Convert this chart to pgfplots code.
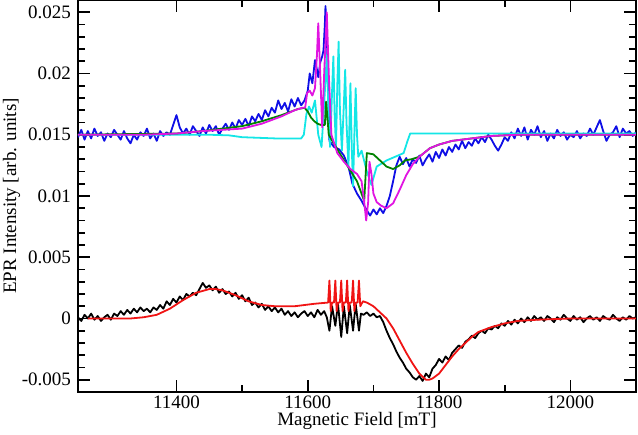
\documentclass[border=0pt]{standalone}
\usepackage{fontspec}
\setmainfont{Liberation Serif}
\usepackage{pgfplots}
\pgfplotsset{compat=1.18}
\usetikzlibrary{calc}
\definecolor{expblue}{RGB}{15,15,230}
\definecolor{fitmag}{RGB}{225,20,225}
\definecolor{fitgreen}{RGB}{0,130,0}
\definecolor{fitcyan}{RGB}{20,230,230}
\definecolor{fitred}{RGB}{240,20,20}
\begin{document}
\begin{tikzpicture}
\begin{axis}[
  name=ax,
  scale only axis, width=279pt, height=196pt,
  xmin=11250, xmax=12100, ymin=-0.006, ymax=0.026,
  scaled x ticks=false, scaled y ticks=false,
  xtick={11400,11600,11800,12000},
  xticklabels={11400,11600,11800,12000},
  minor x tick num=1,
  ytick={-0.005,0,0.005,0.01,0.015,0.02,0.025},
  yticklabels={-0.005,0,0.005,0.01,0.015,0.02,0.025},
  minor y tick num=4,
  tick align=inside,
  major tick length=6pt, minor tick length=3.5pt,
  every tick/.style={black, line width=0.8pt},
  axis line style={line width=1pt},
  font=\fontsize{9.5}{11}\selectfont,
  xlabel={Magnetic Field [mT]},
  ylabel={EPR Intensity [arb. units]},
  xticklabel style={yshift=1.5pt},
  xlabel style={yshift=5pt},
  ylabel style={yshift=-6pt},
  every axis plot/.append style={line width=0.9pt, line join=round},
]
% experiment, upper trace
\addplot[expblue] coordinates {
(11250,0.0148)(11255,0.0154)(11260,0.0146)(11265,0.0153)(11270,0.0147)(11275,0.0155)(11280,0.0149)(11285,0.0152)(11290,0.0145)(11295,0.0151)
(11300,0.0148)(11305,0.0154)(11310,0.0150)(11315,0.0146)(11320,0.0153)(11325,0.0147)(11330,0.0143)(11335,0.0150)(11340,0.0146)(11345,0.0152)
(11350,0.0149)(11355,0.0155)(11360,0.0147)(11365,0.0151)(11370,0.0145)(11375,0.0153)(11380,0.0149)(11385,0.0152)(11390,0.0150)(11395,0.0158)
(11400,0.0166)(11405,0.0156)(11410,0.0151)(11415,0.0155)(11420,0.0150)(11425,0.0157)(11430,0.0153)(11435,0.0149)(11440,0.0156)(11445,0.0151)
(11450,0.0158)(11455,0.0153)(11460,0.0157)(11465,0.0150)(11470,0.0155)(11475,0.0159)(11480,0.0154)(11485,0.0160)(11490,0.0155)(11495,0.0162)
(11500,0.0158)(11505,0.0163)(11510,0.0157)(11515,0.0165)(11520,0.0161)(11525,0.0167)(11530,0.0162)(11535,0.0170)(11540,0.0165)(11545,0.0172)
(11550,0.0168)(11555,0.0178)(11560,0.0171)(11565,0.0176)(11570,0.0169)(11575,0.0179)(11580,0.0173)(11585,0.0180)(11590,0.0174)(11595,0.0178)
(11600,0.0186)(11603,0.0200)(11607,0.0192)(11611,0.0211)(11614,0.0203)(11616,0.0197)(11619,0.0209)(11622,0.0214)(11624,0.0219)(11626,0.0240)
(11627,0.0255)(11629,0.0232)(11631,0.0190)(11633,0.0145)(11640,0.0140)(11648,0.0138)(11655,0.0133)(11662,0.0124)(11668,0.0110)(11675,0.0102)
(11682,0.0096)(11688,0.0090)(11695,0.0084)(11700,0.0089)(11705,0.0085)(11710,0.0090)(11715,0.0086)(11720,0.0092)(11725,0.0100)(11730,0.0112)
(11735,0.0125)(11740,0.0132)(11745,0.0126)(11750,0.0131)(11755,0.0124)(11760,0.0130)(11765,0.0127)(11770,0.0133)(11775,0.0125)(11780,0.0130)
(11785,0.0134)(11790,0.0128)(11795,0.0136)(11800,0.0131)(11805,0.0138)(11810,0.0133)(11815,0.0140)(11820,0.0136)(11825,0.0142)(11830,0.0138)
(11835,0.0145)(11840,0.0139)(11845,0.0144)(11850,0.0141)(11855,0.0147)(11860,0.0143)(11865,0.0148)(11870,0.0144)(11875,0.0150)(11880,0.0146)
(11885,0.0141)(11890,0.0137)(11895,0.0142)(11900,0.0148)(11905,0.0145)(11910,0.0152)(11915,0.0147)(11920,0.0155)(11925,0.0149)(11930,0.0156)
(11935,0.0146)(11940,0.0154)(11945,0.0150)(11950,0.0157)(11955,0.0148)(11960,0.0153)(11965,0.0145)(11970,0.0151)(11975,0.0147)(11980,0.0154)
(11985,0.0149)(11990,0.0152)(11995,0.0146)(12000,0.0150)(12005,0.0148)(12010,0.0153)(12015,0.0147)(12020,0.0151)(12025,0.0149)(12030,0.0155)
(12035,0.0150)(12040,0.0156)(12045,0.0162)(12050,0.0153)(12055,0.0145)(12060,0.0150)(12065,0.0152)(12070,0.0157)(12075,0.0148)(12080,0.0155)
(12085,0.0151)(12090,0.0153)(12095,0.0149)(12100,0.0152)
};
% fit 3 (cyan)
\addplot[fitcyan] coordinates {
(11250,0.0150)(11450,0.0150)(11480,0.01495)(11500,0.0148)(11550,0.0147)(11590,0.0147)(11594,0.0150)(11598,0.0167)(11602,0.0173)(11606,0.0168)
(11611,0.0178)(11616,0.0150)(11621,0.0140)(11625,0.0175)(11629,0.0215)(11632,0.0160)(11634,0.0140)(11637,0.0185)(11639,0.0214)(11641,0.0165)
(11643,0.0140)(11645,0.0190)(11647,0.0226)(11649,0.0170)(11652,0.0137)(11655,0.0175)(11657,0.0203)(11659,0.0160)(11662,0.0124)(11664,0.0170)
(11665,0.0192)(11667,0.0140)(11669,0.0108)(11671,0.0150)(11673,0.0188)(11675,0.0150)(11677,0.0132)(11682,0.0137)(11690,0.0120)(11697,0.0109)
(11705,0.0124)(11720,0.0129)(11746,0.0135)(11752,0.0145)(11756,0.0151)(11800,0.0151)(12100,0.0151)
};
% fit 2 (green)
\addplot[fitgreen] coordinates {
(11250,0.0150)(11400,0.0151)(11440,0.0153)(11500,0.0157)(11530,0.0161)(11560,0.0166)(11585,0.0171)(11595,0.0172)(11600,0.0169)(11605,0.0164)
(11610,0.0161)(11615,0.0159)(11620,0.0158)(11626,0.0158)(11628,0.0177)(11632,0.0150)(11645,0.0138)(11660,0.0125)(11675,0.0112)(11686,0.0096)
(11690,0.0135)(11700,0.0134)(11710,0.0129)(11720,0.0124)(11730,0.0122)(11740,0.0125)(11748,0.0129)(11758,0.0130)(11770,0.0132)(11786,0.0139)
(11800,0.0142)(11820,0.0145)(11850,0.0147)(11880,0.0149)(11920,0.0150)(12100,0.0150)
};
% fit 1 (magenta)
\addplot[fitmag] coordinates {
(11250,0.0150)(11350,0.0150)(11400,0.0151)(11440,0.0153)(11470,0.0154)(11500,0.0155)(11530,0.0159)(11560,0.0165)(11580,0.0170)(11592,0.0172)
(11596,0.0172)(11599,0.0184)(11603,0.0186)(11607,0.0182)(11611,0.0188)(11614,0.0215)(11616,0.0241)(11619,0.0200)(11622,0.0156)(11625,0.0200)
(11629,0.0250)(11632,0.0200)(11636,0.0150)(11645,0.0135)(11655,0.0128)(11665,0.0122)(11675,0.0118)(11682,0.0112)(11686,0.0095)(11689,0.0080)
(11692,0.0095)(11694,0.0128)(11697,0.0118)(11700,0.0102)(11705,0.0095)(11712,0.0092)(11720,0.0090)(11730,0.0094)(11740,0.0105)(11750,0.0117)
(11760,0.0126)(11770,0.0132)(11786,0.0139)(11800,0.0142)(11820,0.0145)(11850,0.0147)(11880,0.0149)(11920,0.0150)(12100,0.0150)
};
% experiment, lower trace
\addplot[black] coordinates {
(11250,0.0001)(11255,-0.0002)(11260,0.0003)(11265,0.0000)(11270,0.0004)(11275,-0.0001)(11280,0.0002)(11285,-0.0002)(11290,0.0001)(11295,0.0003)
(11300,-0.0001)(11305,0.0004)(11310,0.0002)(11315,0.0006)(11320,0.0003)(11325,0.0007)(11330,0.0004)(11335,0.0008)(11340,0.0005)(11345,0.0009)
(11350,0.0006)(11355,0.0008)(11360,0.0005)(11365,0.0009)(11370,0.0007)(11375,0.0011)(11380,0.0008)(11385,0.0014)(11390,0.0011)(11395,0.0016)
(11400,0.0013)(11405,0.0018)(11410,0.0015)(11415,0.0020)(11420,0.0018)(11425,0.0021)(11430,0.0019)(11435,0.0024)(11440,0.0029)(11445,0.0025)
(11450,0.0027)(11455,0.0023)(11460,0.0026)(11465,0.0021)(11470,0.0024)(11475,0.0020)(11480,0.0022)(11485,0.0018)(11490,0.0021)(11495,0.0016)
(11500,0.0019)(11505,0.0014)(11510,0.0017)(11515,0.0011)(11520,0.0013)(11525,0.0009)(11530,0.0012)(11535,0.0007)(11540,0.0010)(11545,0.0006)
(11550,0.0009)(11555,0.0005)(11560,0.0008)(11565,0.0003)(11570,0.0006)(11575,0.0002)(11580,0.0005)(11585,0.0001)(11590,0.0004)(11595,0.0006)
(11600,0.0002)(11605,0.0005)(11610,0.0001)(11615,0.0007)(11620,0.0003)(11625,0.0006)(11629,0.0001)(11633,-0.0010)(11637,0.0010)(11642,-0.0006)
(11646,0.0012)(11651,-0.0015)(11655,0.0010)(11660,-0.0012)(11664,0.0011)(11669,-0.0010)(11673,0.0012)(11678,-0.0010)(11681,0.0004)(11685,0.0003)
(11690,0.0005)(11695,0.0002)(11700,0.0004)(11705,0.0001)(11710,0.0002)(11715,-0.0003)(11720,-0.0010)(11725,-0.0016)(11730,-0.0021)(11735,-0.0027)
(11740,-0.0032)(11745,-0.0036)(11750,-0.0041)(11755,-0.0044)(11760,-0.0048)(11765,-0.0050)(11770,-0.0047)(11775,-0.0051)(11780,-0.0045)(11785,-0.0048)
(11790,-0.0041)(11795,-0.0038)(11800,-0.0033)(11805,-0.0036)(11810,-0.0031)(11815,-0.0034)(11820,-0.0028)(11825,-0.0025)(11830,-0.0022)(11835,-0.0024)
(11840,-0.0019)(11845,-0.0017)(11850,-0.0014)(11855,-0.0016)(11860,-0.0012)(11865,-0.0010)(11870,-0.0012)(11875,-0.0008)(11880,-0.0009)(11885,-0.0006)
(11890,-0.0008)(11895,-0.0004)(11900,-0.0006)(11905,-0.0002)(11910,-0.0005)(11915,-0.0001)(11920,-0.0004)(11925,0.0000)(11930,-0.0003)(11935,0.0001)
(11940,-0.0002)(11945,0.0002)(11950,-0.0001)(11955,0.0001)(11960,-0.0002)(11965,0.0002)(11970,0.0000)(11975,-0.0003)(11980,0.0001)(11985,-0.0001)
(11990,0.0003)(11995,0.0000)(12000,-0.0002)(12005,0.0002)(12010,-0.0001)(12015,0.0001)(12020,-0.0003)(12025,0.0000)(12030,0.0002)(12035,-0.0001)
(12040,0.0001)(12045,-0.0002)(12050,0.0002)(12055,0.0000)(12060,-0.0001)(12065,0.0003)(12070,0.0000)(12075,-0.0002)(12080,0.0001)(12085,-0.0001)
(12090,0.0002)(12095,0.0000)(12100,0.0001)
};
% fit, lower trace
\addplot[fitred] coordinates {
(11265,0.0000)(11300,0.0000)(11330,0.0000)(11350,0.0001)(11370,0.0003)(11390,0.0008)(11410,0.0015)(11430,0.0021)(11450,0.0024)(11460,0.0024)
(11470,0.0023)(11490,0.0019)(11510,0.0014)(11530,0.0011)(11550,0.0010)(11580,0.0010)(11610,0.0012)(11631,0.0013)
(11633,0.0031)(11635,0.0006)(11637,0.0013)(11640,0.0013)(11642,0.0031)(11644,0.0006)(11646,0.0013)(11649,0.0013)
(11651,0.0031)(11653,0.0006)(11655,0.0013)(11658,0.0013)(11660,0.0031)(11662,0.0006)(11664,0.0013)(11667,0.0013)
(11669,0.0031)(11671,0.0006)(11673,0.0013)(11676,0.0013)(11678,0.0031)(11680,0.0010)(11684,0.0014)(11690,0.0013)
(11700,0.0010)(11710,0.0005)(11720,0.0000)(11730,-0.0008)(11740,-0.0018)(11750,-0.0028)(11760,-0.0037)(11770,-0.0045)(11780,-0.0050)(11785,-0.0050)
(11790,-0.0049)(11800,-0.0045)(11810,-0.0038)(11820,-0.0031)(11830,-0.0025)(11840,-0.0020)(11850,-0.0015)(11860,-0.0011)(11870,-0.0009)(11880,-0.0007)
(11900,-0.0004)(11920,-0.0002)(11950,-0.0001)(12000,0.0000)(12100,0.0000)
};
\end{axis}
\pgfresetboundingbox
\path ($(ax.south west)+(-39pt,-21.5pt)$) rectangle ($(ax.north east)+(1pt,0pt)$);
\end{tikzpicture}
\end{document}
